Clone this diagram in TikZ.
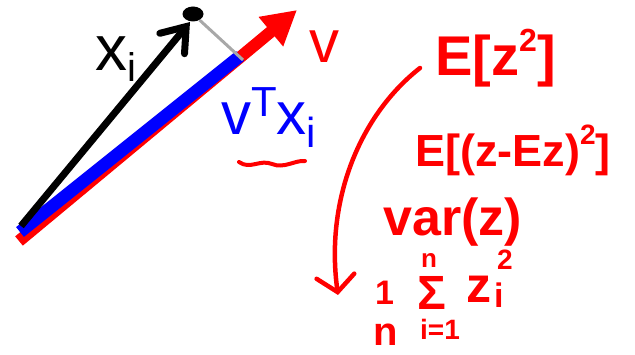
\documentclass[tikz,border=0pt]{standalone}
\usepackage{fontspec}
\setmainfont{Liberation Sans}
\usepackage{tikz}
\usetikzlibrary{positioning, arrows.meta, shapes.geometric}
\definecolor{penred}{HTML}{FF0000}
\definecolor{projblue}{HTML}{0000FF}
\definecolor{dropgray}{HTML}{A8A8A8}
\newcommand{\setfs}[1]{\fontsize{#1}{#1}\selectfont}

\begin{document}
\begin{tikzpicture}[x=1pt, y=-1pt,
    lbl/.style={inner sep=0pt, anchor=base west},
    ink/.style={lbl, text=penred, font=\bfseries}]
  \useasboundingbox (0,0) rectangle (635,355);

  % vectors
  \coordinate (vbase) at (19,241);
  \coordinate (vtip) at (297,10);
  \coordinate (pbase) at (20,232);
  \coordinate (pend) at (240,56);
  \coordinate (xbase) at (21,226);
  \coordinate (xtip) at (190,22);
  \coordinate (foot) at (243,60);
  \node (pt) [fill=black, ellipse, minimum width=21pt, minimum height=15pt, inner sep=0pt] at (193,14) {};

  \draw[penred, line width=12pt, -{Triangle[length=34pt, width=36pt]}] (vbase) -- (vtip);
  \draw[projblue, line width=12.5pt] (pbase) -- (pend);
  \draw[dropgray, line width=3pt] (pt) -- (foot);
  \draw[black, line width=7pt, -{Straight Barb[length=22pt, width=32pt, line cap=round]}] (xbase) -- (xtip);

  \node (xi) [lbl] at (95,71) {\setfs{64}x\setfs{40}\raisebox{-11pt}{i}};
  \node (v) [lbl, text=penred] at (309,63) {\setfs{60}v};
  \node (vtx) [lbl, text=projblue] at (221,135)
    {\setfs{60}v\setfs{42}\raisebox{18pt}{T}\setfs{60}x\setfs{42}\raisebox{-13pt}{i}};
  \draw[penred, line width=4pt, line cap=round]
    (239,162) .. controls (250,170) and (260,159) .. (272,164)
    .. controls (284,169) and (295,160) .. (305,161);

  % notes
  \node (ez) [ink] at (435,76) {\setfs{56}E[z\setfs{32}\raisebox{24pt}{2}\setfs{56}]};
  \node (evar) [ink] at (415,167) {\setfs{45}E[(z-Ez)\setfs{28}\raisebox{22pt}{2}\setfs{45}]};
  \node (var) [ink] at (383,236) {\setfs{52}var(z)};
  \node (one) [ink] at (375,305) {\setfs{34}1};
  \node (n) [ink] at (373,346) {\setfs{40}n};
  \node (sig) [ink] at (417,310) {\setfs{48}Σ};
  \node (sigtop) [ink] at (421,268) {\setfs{26}n};
  \node (sigbot) [ink] at (420,340) {\setfs{28}i=1};
  \node (z) [ink] at (466,303) {\setfs{50}z};
  \node (zi) [ink] at (494,308) {\setfs{34}i};
  \node (zsq) [ink] at (497,270) {\setfs{28}2};

  \draw[penred, line width=4.5pt, line cap=round, -{Straight Barb[length=16pt, width=38pt, line cap=round]}]
    (420,68) .. controls (360,115) and (325,200) .. (338,295);
\end{tikzpicture}
\end{document}
